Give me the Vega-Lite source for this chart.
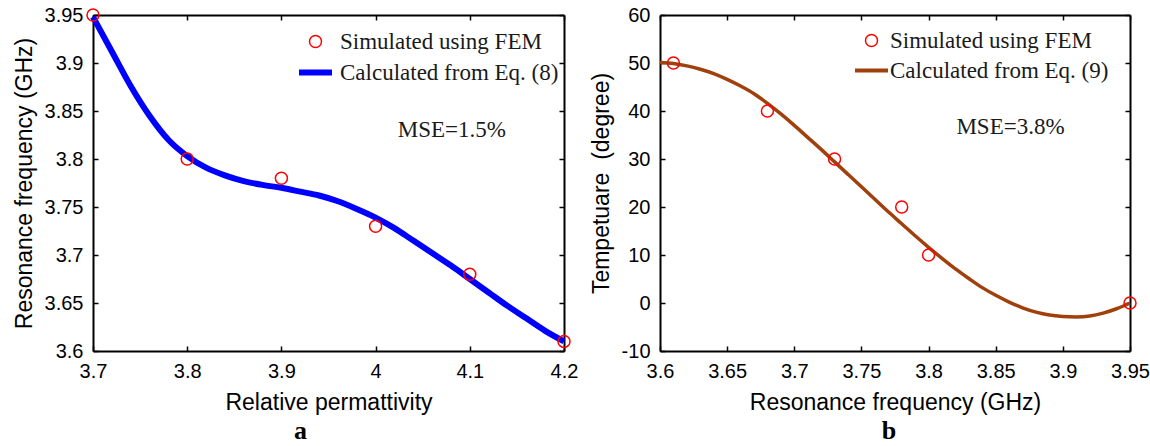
{
  "$schema": "https://vega.github.io/schema/vega-lite/v6.json",
  "background": "white",
  "padding": {"left": 13, "top": 4, "right": 5, "bottom": 0},
  "spacing": 12,
  "config": {
    "view": {"stroke": null},
    "axis": {
      "domainColor": "black", "domainWidth": 2, "tickColor": "black", "tickWidth": 1.5, "tickSize": -5,
      "labelFont": "Liberation Sans", "labelFontSize": 20, "labelColor": "black",
      "titleFont": "Liberation Sans", "titleFontSize": 23, "titleFontWeight": "normal", "titleColor": "black",
      "grid": false, "labelFlush": false, "labelOverlap": false, "labelPadding": 15
    },
    "title": {"font": "Liberation Serif", "fontWeight": "bold", "fontSize": 26, "color": "black"}
  },
  "datasets": {
    "curveA": [
      {"x": 3.70, "y": 3.948, "series": "Calculated from Eq. (8)"},
      {"x": 3.72, "y": 3.912, "series": "Calculated from Eq. (8)"},
      {"x": 3.74, "y": 3.876, "series": "Calculated from Eq. (8)"},
      {"x": 3.76, "y": 3.845, "series": "Calculated from Eq. (8)"},
      {"x": 3.78, "y": 3.820, "series": "Calculated from Eq. (8)"},
      {"x": 3.80, "y": 3.803, "series": "Calculated from Eq. (8)"},
      {"x": 3.82, "y": 3.791, "series": "Calculated from Eq. (8)"},
      {"x": 3.84, "y": 3.783, "series": "Calculated from Eq. (8)"},
      {"x": 3.86, "y": 3.777, "series": "Calculated from Eq. (8)"},
      {"x": 3.88, "y": 3.773, "series": "Calculated from Eq. (8)"},
      {"x": 3.90, "y": 3.770, "series": "Calculated from Eq. (8)"},
      {"x": 3.92, "y": 3.766, "series": "Calculated from Eq. (8)"},
      {"x": 3.94, "y": 3.762, "series": "Calculated from Eq. (8)"},
      {"x": 3.96, "y": 3.756, "series": "Calculated from Eq. (8)"},
      {"x": 3.98, "y": 3.748, "series": "Calculated from Eq. (8)"},
      {"x": 4.00, "y": 3.739, "series": "Calculated from Eq. (8)"},
      {"x": 4.02, "y": 3.728, "series": "Calculated from Eq. (8)"},
      {"x": 4.04, "y": 3.715, "series": "Calculated from Eq. (8)"},
      {"x": 4.06, "y": 3.702, "series": "Calculated from Eq. (8)"},
      {"x": 4.08, "y": 3.689, "series": "Calculated from Eq. (8)"},
      {"x": 4.10, "y": 3.675, "series": "Calculated from Eq. (8)"},
      {"x": 4.12, "y": 3.661, "series": "Calculated from Eq. (8)"},
      {"x": 4.14, "y": 3.647, "series": "Calculated from Eq. (8)"},
      {"x": 4.16, "y": 3.634, "series": "Calculated from Eq. (8)"},
      {"x": 4.18, "y": 3.621, "series": "Calculated from Eq. (8)"},
      {"x": 4.20, "y": 3.610, "series": "Calculated from Eq. (8)"}
    ],
    "ptsA": [
      {"x": 3.7, "y": 3.95, "series": "Simulated using FEM"},
      {"x": 3.8, "y": 3.80, "series": "Simulated using FEM"},
      {"x": 3.9, "y": 3.78, "series": "Simulated using FEM"},
      {"x": 4.0, "y": 3.73, "series": "Simulated using FEM"},
      {"x": 4.1, "y": 3.68, "series": "Simulated using FEM"},
      {"x": 4.2, "y": 3.61, "series": "Simulated using FEM"}
    ],
    "noteA": [{"x": 4.081, "y": 3.83, "label": "MSE=1.5%"}],
    "curveB": [
      {"x": 3.60, "y": 50.1, "series": "Calculated from Eq. (9)"},
      {"x": 3.61, "y": 49.9, "series": "Calculated from Eq. (9)"},
      {"x": 3.62, "y": 49.4, "series": "Calculated from Eq. (9)"},
      {"x": 3.63, "y": 48.7, "series": "Calculated from Eq. (9)"},
      {"x": 3.64, "y": 47.8, "series": "Calculated from Eq. (9)"},
      {"x": 3.65, "y": 46.6, "series": "Calculated from Eq. (9)"},
      {"x": 3.66, "y": 45.2, "series": "Calculated from Eq. (9)"},
      {"x": 3.67, "y": 43.6, "series": "Calculated from Eq. (9)"},
      {"x": 3.68, "y": 41.6, "series": "Calculated from Eq. (9)"},
      {"x": 3.69, "y": 39.4, "series": "Calculated from Eq. (9)"},
      {"x": 3.70, "y": 37.0, "series": "Calculated from Eq. (9)"},
      {"x": 3.71, "y": 34.5, "series": "Calculated from Eq. (9)"},
      {"x": 3.72, "y": 32.0, "series": "Calculated from Eq. (9)"},
      {"x": 3.73, "y": 29.4, "series": "Calculated from Eq. (9)"},
      {"x": 3.74, "y": 26.8, "series": "Calculated from Eq. (9)"},
      {"x": 3.75, "y": 24.2, "series": "Calculated from Eq. (9)"},
      {"x": 3.76, "y": 21.6, "series": "Calculated from Eq. (9)"},
      {"x": 3.77, "y": 19.0, "series": "Calculated from Eq. (9)"},
      {"x": 3.78, "y": 16.5, "series": "Calculated from Eq. (9)"},
      {"x": 3.79, "y": 14.0, "series": "Calculated from Eq. (9)"},
      {"x": 3.80, "y": 11.6, "series": "Calculated from Eq. (9)"},
      {"x": 3.81, "y": 9.3, "series": "Calculated from Eq. (9)"},
      {"x": 3.82, "y": 7.1, "series": "Calculated from Eq. (9)"},
      {"x": 3.83, "y": 5.1, "series": "Calculated from Eq. (9)"},
      {"x": 3.84, "y": 3.2, "series": "Calculated from Eq. (9)"},
      {"x": 3.85, "y": 1.6, "series": "Calculated from Eq. (9)"},
      {"x": 3.86, "y": 0.2, "series": "Calculated from Eq. (9)"},
      {"x": 3.87, "y": -1.0, "series": "Calculated from Eq. (9)"},
      {"x": 3.88, "y": -1.9, "series": "Calculated from Eq. (9)"},
      {"x": 3.89, "y": -2.5, "series": "Calculated from Eq. (9)"},
      {"x": 3.90, "y": -2.8, "series": "Calculated from Eq. (9)"},
      {"x": 3.91, "y": -2.9, "series": "Calculated from Eq. (9)"},
      {"x": 3.92, "y": -2.7, "series": "Calculated from Eq. (9)"},
      {"x": 3.93, "y": -2.1, "series": "Calculated from Eq. (9)"},
      {"x": 3.94, "y": -1.2, "series": "Calculated from Eq. (9)"},
      {"x": 3.95, "y": 0.0, "series": "Calculated from Eq. (9)"}
    ],
    "ptsB": [
      {"x": 3.61, "y": 50, "series": "Simulated using FEM"},
      {"x": 3.68, "y": 40, "series": "Simulated using FEM"},
      {"x": 3.73, "y": 30, "series": "Simulated using FEM"},
      {"x": 3.78, "y": 20, "series": "Simulated using FEM"},
      {"x": 3.80, "y": 10, "series": "Simulated using FEM"},
      {"x": 3.95, "y": 0, "series": "Simulated using FEM"}
    ],
    "noteB": [{"x": 3.861, "y": 36.7, "label": "MSE=3.8%"}]
  },
  "resolve": {"scale": {"color": "independent"}, "legend": {"color": "independent"}},
  "hconcat": [
    {
      "width": 471,
      "height": 336,
      "title": {"text": "a", "orient": "bottom", "dx": -28, "offset": 4},
      "resolve": {"axis": {"x": "independent", "y": "independent"}},
      "layer": [
        {
          "data": {"name": "curveA"},
          "mark": {"type": "line", "strokeWidth": 6, "interpolate": "monotone"},
          "encoding": {
            "x": {"field": "x", "type": "quantitative", "scale": {"domain": [3.7, 4.2], "nice": false, "zero": false},
                  "axis": {"title": "Relative permattivity", "values": [3.7, 3.8, 3.9, 4, 4.1, 4.2], "labelExpr": "'' + datum.value", "titlePadding": 10}},
            "y": {"field": "y", "type": "quantitative", "scale": {"domain": [3.6, 3.95], "nice": false, "zero": false},
                  "axis": {"title": "Resonance frequency (GHz)", "values": [3.6, 3.65, 3.7, 3.75, 3.8, 3.85, 3.9, 3.95], "labelExpr": "'' + datum.value", "titlePadding": 8}},
            "color": {"field": "series", "type": "nominal",
                      "scale": {"domain": ["Simulated using FEM", "Calculated from Eq. (8)"], "range": ["#ff0000", "#0000ff"]},
                      "legend": {
                        "title": null, "orient": "none", "legendX": 211, "legendY": 15, "padding": 0, "rowPadding": 6,
                        "labelFont": "Liberation Serif", "labelFontSize": 23, "labelColor": "#1a1a1a", "labelOffset": 13, "labelLimit": 0,
                        "symbolSize": 841, "symbolType": "stroke", "symbolStrokeWidth": 6,
                        "encode": {"symbols": {"update": {
                          "shape": {"signal": "datum.value === 'Simulated using FEM' ? 'circle' : 'stroke'"},
                          "size": {"signal": "datum.value === 'Simulated using FEM' ? 144 : 1089"},
                          "strokeWidth": {"signal": "datum.value === 'Simulated using FEM' ? 1.5 : 6"},
                          "stroke": {"signal": "datum.value === 'Simulated using FEM' ? '#ff0000' : '#0000ff'"},
                          "fill": {"value": "transparent"},
                          "opacity": {"value": 1}
                        }}}
                      }}
          }
        },
        {
          "data": {"name": "ptsA"},
          "mark": {"type": "point", "filled": false, "size": 144, "strokeWidth": 1.5, "opacity": 1},
          "encoding": {
            "x": {"field": "x", "type": "quantitative", "scale": {"domain": [3.7, 4.2], "nice": false, "zero": false},
                  "axis": {"orient": "top", "labels": false, "title": null, "values": [3.7, 3.8, 3.9, 4, 4.1, 4.2]}},
            "y": {"field": "y", "type": "quantitative", "scale": {"domain": [3.6, 3.95], "nice": false, "zero": false},
                  "axis": {"orient": "right", "labels": false, "title": null, "values": [3.6, 3.65, 3.7, 3.75, 3.8, 3.85, 3.9, 3.95]}},
            "color": {"field": "series", "type": "nominal"}
          }
        },
        {
          "data": {"name": "noteA"},
          "mark": {"type": "text", "font": "Liberation Serif", "fontSize": 23, "color": "#1a1a1a", "align": "center", "baseline": "middle"},
          "encoding": {
            "x": {"field": "x", "type": "quantitative", "axis": null},
            "y": {"field": "y", "type": "quantitative", "axis": null},
            "text": {"field": "label"}
          }
        }
      ]
    },
    {
      "width": 470,
      "height": 336,
      "title": {"text": "b", "orient": "bottom", "dx": -6, "offset": 4},
      "resolve": {"axis": {"x": "independent", "y": "independent"}},
      "layer": [
        {
          "data": {"name": "curveB"},
          "mark": {"type": "line", "strokeWidth": 3.5, "interpolate": "monotone"},
          "encoding": {
            "x": {"field": "x", "type": "quantitative", "scale": {"domain": [3.6, 3.95], "nice": false, "zero": false},
                  "axis": {"title": "Resonance frequency (GHz)", "values": [3.6, 3.65, 3.7, 3.75, 3.8, 3.85, 3.9, 3.95], "labelExpr": "'' + datum.value", "titlePadding": 10}},
            "y": {"field": "y", "type": "quantitative", "scale": {"domain": [-10, 60], "nice": false, "zero": false},
                  "axis": {"title": "Tempetuare \u00a0(degree)", "values": [-10, 0, 10, 20, 30, 40, 50, 60], "labelExpr": "'' + datum.value", "titlePadding": 8}},
            "color": {"field": "series", "type": "nominal",
                      "scale": {"domain": ["Simulated using FEM", "Calculated from Eq. (9)"], "range": ["#ff0000", "#a0400c"]},
                      "legend": {
                        "title": null, "orient": "none", "legendX": 200, "legendY": 14, "padding": 0, "rowPadding": 6,
                        "labelFont": "Liberation Serif", "labelFontSize": 23, "labelColor": "#1a1a1a", "labelOffset": 7, "labelLimit": 0,
                        "symbolSize": 841, "symbolType": "stroke", "symbolStrokeWidth": 4,
                        "encode": {"symbols": {"update": {
                          "shape": {"signal": "datum.value === 'Simulated using FEM' ? 'circle' : 'stroke'"},
                          "size": {"signal": "datum.value === 'Simulated using FEM' ? 144 : 1089"},
                          "strokeWidth": {"signal": "datum.value === 'Simulated using FEM' ? 1.5 : 4"},
                          "stroke": {"signal": "datum.value === 'Simulated using FEM' ? '#ff0000' : '#a0400c'"},
                          "fill": {"value": "transparent"},
                          "opacity": {"value": 1}
                        }}}
                      }}
          }
        },
        {
          "data": {"name": "ptsB"},
          "mark": {"type": "point", "filled": false, "size": 144, "strokeWidth": 1.5, "opacity": 1},
          "encoding": {
            "x": {"field": "x", "type": "quantitative", "scale": {"domain": [3.6, 3.95], "nice": false, "zero": false},
                  "axis": {"orient": "top", "labels": false, "title": null, "values": [3.6, 3.65, 3.7, 3.75, 3.8, 3.85, 3.9, 3.95]}},
            "y": {"field": "y", "type": "quantitative", "scale": {"domain": [-10, 60], "nice": false, "zero": false},
                  "axis": {"orient": "right", "labels": false, "title": null, "values": [-10, 0, 10, 20, 30, 40, 50, 60]}},
            "color": {"field": "series", "type": "nominal"}
          }
        },
        {
          "data": {"name": "noteB"},
          "mark": {"type": "text", "font": "Liberation Serif", "fontSize": 23, "color": "#1a1a1a", "align": "center", "baseline": "middle"},
          "encoding": {
            "x": {"field": "x", "type": "quantitative", "axis": null},
            "y": {"field": "y", "type": "quantitative", "axis": null},
            "text": {"field": "label"}
          }
        }
      ]
    }
  ]
}
